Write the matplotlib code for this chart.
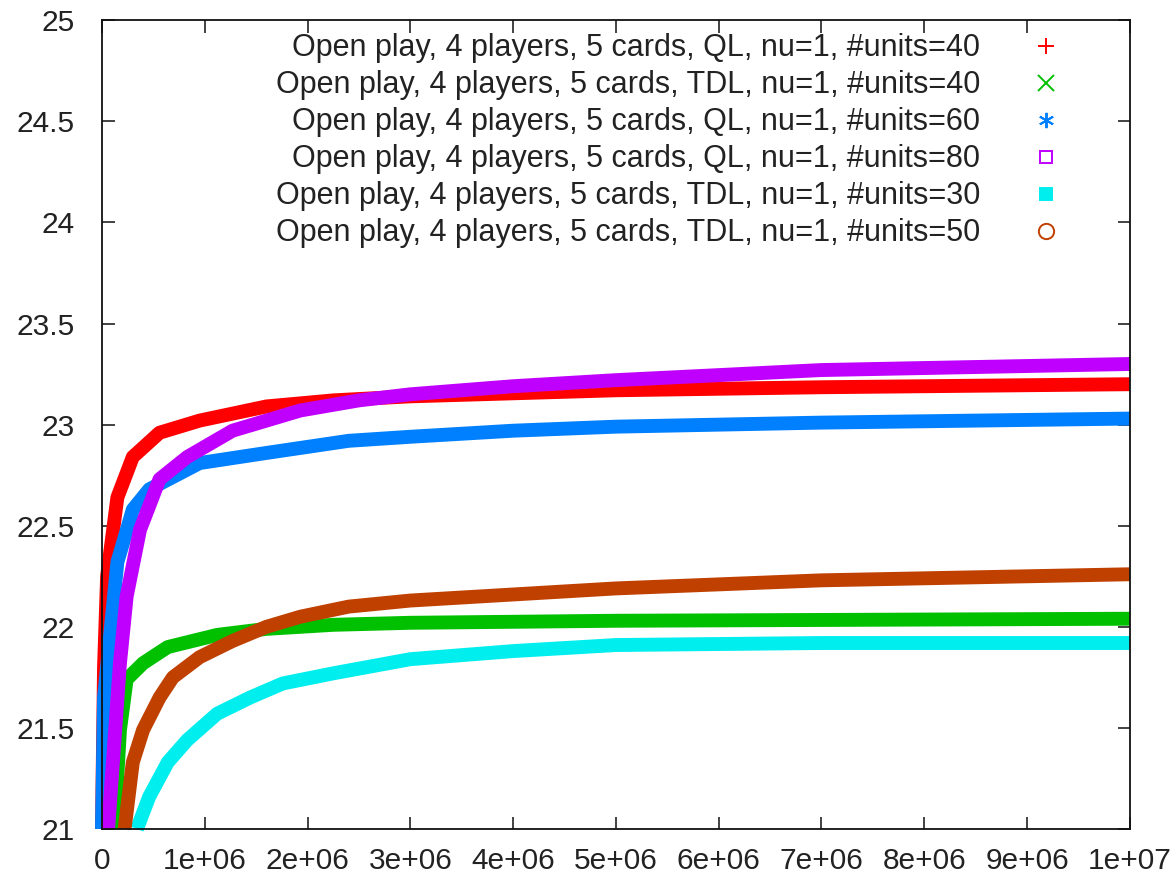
import numpy as np
import matplotlib
matplotlib.use("Agg")
import matplotlib.pyplot as plt
from matplotlib.lines import Line2D

plt.rcParams["font.family"] = ["Liberation Sans", "DejaVu Sans"]

# values (x = number of games played)
labels = [
    "Open play, 4 players, 5 cards, QL, nu=1, #units=40",
    "Open play, 4 players, 5 cards, TDL, nu=1, #units=40",
    "Open play, 4 players, 5 cards, QL, nu=1, #units=60",
    "Open play, 4 players, 5 cards, QL, nu=1, #units=80",
    "Open play, 4 players, 5 cards, TDL, nu=1, #units=30",
    "Open play, 4 players, 5 cards, TDL, nu=1, #units=50",
]

x_ql40 = [0, 2e4, 5e4, 1.5e5, 3e5, 5.6e5, 9.5e5, 1.6e6, 2.25e6, 3e6, 5e6, 7e6, 1e7]
y_ql40 = [21.0, 21.8, 22.25, 22.64, 22.84, 22.96, 23.02, 23.09, 23.12, 23.14, 23.17, 23.185, 23.2]

x_tdl40 = [1.2e5, 1.75e5, 2.4e5, 4e5, 6.4e5, 1.12e6, 1.6e6, 2.25e6, 3e6, 5e6, 1e7]
y_tdl40 = [21.0, 21.49, 21.74, 21.82, 21.9, 21.96, 21.99, 22.01, 22.02, 22.03, 22.04]

x_ql60 = [0, 2e4, 1.5e5, 3e5, 4.6e5, 9.5e5, 1.6e6, 2.4e6, 3e6, 4e6, 5e6, 7e6, 1e7]
y_ql60 = [21.0, 21.65, 22.32, 22.58, 22.68, 22.81, 22.86, 22.92, 22.94, 22.97, 22.99, 23.01, 23.03]

x_ql80 = [6e4, 1.75e5, 2.4e5, 3.7e5, 5.6e5, 8.3e5, 1.27e6, 1.93e6, 2.5e6, 3e6, 4e6, 5e6, 7e6, 1e7]
y_ql80 = [21.0, 21.82, 22.15, 22.48, 22.73, 22.84, 22.97, 23.07, 23.12, 23.15, 23.19, 23.22, 23.27, 23.30]

x_tdl30 = [3.4e5, 4.6e5, 6.4e5, 8.3e5, 1.12e6, 1.44e6, 1.76e6, 2.25e6, 3e6, 4e6, 5e6, 7e6, 1e7]
y_tdl30 = [21.0, 21.16, 21.33, 21.44, 21.57, 21.65, 21.72, 21.77, 21.84, 21.88, 21.91, 21.92, 21.92]

x_tdl50 = [2.2e5, 3e5, 4e5, 5.6e5, 6.9e5, 9.5e5, 1.27e6, 1.6e6, 1.93e6, 2.4e6, 3e6, 4e6, 5e6, 7e6, 1e7]
y_tdl50 = [21.0, 21.33, 21.49, 21.65, 21.75, 21.85, 21.93, 22.0, 22.05, 22.1, 22.13, 22.16, 22.19, 22.23, 22.26]

xs = [x_ql40, x_tdl40, x_ql60, x_ql80, x_tdl30, x_tdl50]
ys = [y_ql40, y_tdl40, y_ql60, y_ql80, y_tdl30, y_tdl50]

colors = ["#ff0000", "#00c000", "#0080ff", "#c000ff", "#00eeee", "#c04000"]
markers = ["+", "x", (6, 2, 0), "s", "s", "o"]
filled = [True, True, True, False, True, False]

fig = plt.figure(figsize=(11.72, 8.81), dpi=100)
ax = fig.add_axes([0.087, 0.059, 0.877, 0.918])

# later series are drawn on top, like gnuplot does
for i in range(len(xs)):
    ax.plot(xs[i], ys[i], color=colors[i], lw=10, solid_capstyle="butt",
            solid_joinstyle="round", clip_on=False, zorder=2 + i)

ax.set_xlim(0, 1e7)
ax.set_ylim(21, 25)
ax.set_xticks(np.arange(0, 1.01e7, 1e6))
ax.set_xticklabels(["0"] + ["%de+06" % k for k in range(1, 10)] + ["1e+07"])
ax.set_yticks([21, 21.5, 22, 22.5, 23, 23.5, 24, 24.5, 25])
ax.set_yticklabels(["21", "21.5", "22", "22.5", "23", "23.5", "24", "24.5", "25"])

ax.tick_params(direction="in", length=9, width=1.2, top=True, right=True,
               labelsize=21.5, colors="#222222")
ax.tick_params(axis="y", pad=19.5)
ax.tick_params(axis="x", pad=13)
for sp in ax.spines.values():
    sp.set_linewidth(1.3)
    sp.set_color("#111111")
    sp.set_zorder(20)

handles = []
for c, m, f in zip(colors, markers, filled):
    handles.append(Line2D([], [], ls="none", marker=m, color=c,
                          ms=11 if m != "s" else 9, mew=1.4,
                          mfc=c if f else "none"))

leg = ax.legend(handles, labels, loc="upper right", markerfirst=False, frameon=False,
                fontsize=22, handlelength=2.0, handletextpad=1.15, labelspacing=0.23,
                borderaxespad=0.0, bbox_to_anchor=(0.960, 0.999))
for t in leg.get_texts():
    t.set_color("#222222")

fig.savefig("out.png", dpi=100)
